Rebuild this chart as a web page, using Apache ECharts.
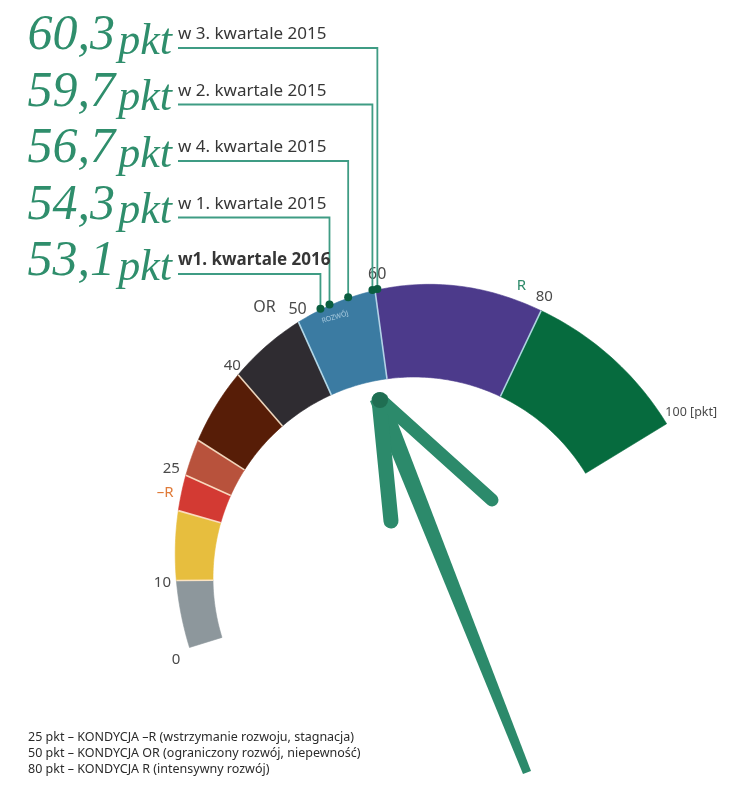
<!DOCTYPE html>
<html><head><meta charset="utf-8">
<script src="https://cdn.jsdelivr.net/npm/echarts@6/dist/echarts.min.js"></script>
<style>html,body{margin:0;padding:0;background:#fff}#main{width:729px;height:791px}</style>
</head><body><div id="main"></div>
<script>
// ---- data ----
const segStarts = [0, 10, 20, 25, 30, 40, 50, 60, 80];
const segEnds   = [10, 20, 25, 30, 40, 50, 60, 80, 100];
const segNotes  = ['', '', '', '', '', '', 'ROZWÓJ', '', ''];
const tickValues = [0, 10, 25, 40, 50, 60, 80, 100];
const tickTexts  = ['0', '10', '25', '40', '50', '60', '80', '100 [pkt]'];
const conditionValues = [25, 50, 80];
const conditionTexts  = ['–R', 'OR', 'R'];
const readingValues  = [60.3, 59.7, 56.7, 54.3, 53.1];
const readingPeriods = ['w 3. kwartale 2015', 'w 2. kwartale 2015', 'w 4. kwartale 2015', 'w 1. kwartale 2015', 'w1. kwartale 2016'];
const legendLines = [
  '25 pkt – KONDYCJA –R (wstrzymanie rozwoju, stagnacja)',
  '50 pkt – KONDYCJA OR (ograniczony rozwój, niepewność)',
  '80 pkt – KONDYCJA R (intensywny rozwój)'
];

// ---- styles ----
const segColors = ['#8d979c', '#e7be3e', '#d33a33', '#b8523c', '#571d07', '#2f2c31', '#3b7ba2', '#4c3a8b', '#066b3e'];
const INNER_R = 201;
function bandWidth(v) { const t = Math.min(v, 75) / 75; return 34 + 61 * (1 - Math.cos(Math.PI * t)) / 2; }
const tickStyle = {
  0:   {d: 10, dx: -4, dy: 9, align: 'center', size: 15},
  10:  {d: 14, dx: 0, dy: 2, align: 'center', size: 15},
  25:  {d: 16, dx: 0, dy: 0, align: 'center', size: 15},
  40:  {d: 12, dx: 2, dy: 0, align: 'center', size: 15},
  50:  {d: 12, dx: 4, dy: -2, align: 'center', size: 16},
  60:  {d: 14, dx: 4, dy: -2, align: 'center', size: 16},
  80:  {d: 12, dx: -2, dy: -3, align: 'center', size: 15},
  100: {d: 2, dx: -3, dy: -10, align: 'left', size: 12.5}
};
const condStyle = {
  25: {dx: -6, dy: 24, color: '#e07b39'},
  50: {dx: -33, dy: -2, color: '#4a4a4a'},
  80: {dx: -23, dy: -11, color: '#2e8b6a'}
};
const LINE_X0 = 178, ROW_Y0 = 48, ROW_DY = 56.5, NUM_X = 172;
const TEAL = '#3f9c84', HAND = '#2f8e6c';

const chart = echarts.init(document.getElementById('main'), null, {renderer: 'canvas'});

function ts(font, fill, align, valign) {
  return {font: font, fill: fill, align: align, textAlign: align, verticalAlign: valign, textVerticalAlign: valign};
}
function T(x, y, text, style) {
  style.text = text;
  return {type: 'text', x: x, y: y, style: style};
}

const option = {
  animation: false,
  backgroundColor: '#ffffff',
  polar: {center: [414, 578], radius: [0, 300]},
  angleAxis: {type: 'value', min: 0, max: 100, startAngle: 197.2, endAngle: 31.4, clockwise: true,
    axisLine: {show: false}, axisTick: {show: false}, axisLabel: {show: false}, splitLine: {show: false}},
  radiusAxis: {type: 'value', min: 0, max: 300,
    axisLine: {show: false}, axisTick: {show: false}, axisLabel: {show: false}, splitLine: {show: false}},
  series: [
    {
      type: 'custom', coordinateSystem: 'polar', silent: true,
      data: segStarts.map((s, i) => [s, segEnds[i], i]),
      renderItem: function (params, api) {
        const v0 = api.value(0), v1 = api.value(1), idx = api.value(2);
        const n = Math.max(4, Math.ceil((v1 - v0) * 2));
        const pts = [];
        for (let k = 0; k <= n; k++) { const v = v0 + (v1 - v0) * k / n; pts.push(api.coord([INNER_R, v])); }
        for (let k = n; k >= 0; k--) { const v = v0 + (v1 - v0) * k / n; pts.push(api.coord([INNER_R + bandWidth(v), v])); }
        const children = [{type: 'polygon', shape: {points: pts}, style: {fill: segColors[idx], stroke: segColors[idx], lineWidth: 0.6}}];
        if (v0 > 0) {
          const a = api.coord([INNER_R, v0]), b = api.coord([INNER_R + bandWidth(v0), v0]);
          children.push({type: 'line', shape: {x1: a[0], y1: a[1], x2: b[0], y2: b[1]},
            style: {stroke: v0 >= 50 ? 'rgba(190,225,240,0.9)' : 'rgba(255,232,205,0.9)', lineWidth: 1.6}});
        }
        if (segNotes[idx]) {
          const vm = v0 + (v1 - v0) * 0.45;
          const p = api.coord([INNER_R + bandWidth(vm) - 13, vm]);
          const q = api.coord([INNER_R + bandWidth(vm) - 13, vm + 0.5]);
          const ang = -Math.atan2(q[1] - p[1], q[0] - p[0]);
          children.push(T(p[0], p[1], segNotes[idx], ts('7px "Noto Sans"', 'rgba(200,225,240,0.75)', 'center', 'middle')));
          children[children.length - 1].rotation = ang;
        }
        return {type: 'group', children: children};
      }
    },
    {
      type: 'custom', coordinateSystem: 'polar', silent: true,
      data: tickValues.map((v, i) => [v, i]),
      renderItem: function (params, api) {
        const v = api.value(0), i = api.value(1);
        const st = tickStyle[v];
        const p = api.coord([INNER_R + bandWidth(v) + st.d, v]);
        const kids = [T(p[0] + st.dx, p[1] + st.dy, tickTexts[i], ts(st.size + 'px "Noto Sans"', '#4a4a4a', st.align, 'middle'))];
        const ci = conditionValues.indexOf(v);
        if (ci >= 0) {
          const cs = condStyle[v];
          kids.push(T(p[0] + st.dx + cs.dx, p[1] + st.dy + cs.dy, conditionTexts[ci], ts(st.size + 'px "Noto Sans"', cs.color, 'center', 'middle')));
        }
        return {type: 'group', children: kids};
      }
    },
    {
      type: 'custom', coordinateSystem: 'polar', silent: true, z: 5,
      data: readingValues.map((v, i) => [v, i]),
      renderItem: function (params, api) {
        const v = api.value(0), i = api.value(1);
        const p = api.coord([INNER_R + bandWidth(v) + 1, v]);
        const y = ROW_Y0 + i * ROW_DY;
        const num = v.toFixed(1).replace('.', ',');
        return {type: 'group', children: [
          {type: 'polyline', shape: {points: [[LINE_X0, y], [p[0], y], [p[0], p[1]]]}, style: {stroke: TEAL, lineWidth: 1.8, fill: null}},
          {type: 'circle', shape: {cx: p[0], cy: p[1], r: 4}, style: {fill: '#0b5e40'}},
          T(LINE_X0, y - 5, readingPeriods[i], ts((i === readingValues.length - 1 ? 'bold ' : '') + '17px "Noto Sans"', '#363636', 'left', 'bottom')),
          {type: 'text', x: NUM_X, y: y - 12, style: {
            text: '{n|' + num + '} {p|pkt}', align: 'right', textAlign: 'right', verticalAlign: 'middle', textVerticalAlign: 'middle',
            rich: {
              n: {font: 'italic 50px "Liberation Serif"', fill: HAND, color: HAND},
              p: {font: 'italic 44px "Liberation Serif"', fill: HAND, color: HAND, padding: [12, 0, 0, 0]}
            }}}
        ]};
      }
    }
  ],
  graphic: [
    {type: 'group', z: 20, silent: true, children: [
      {type: 'polygon', shape: {points: [[370, 401], [387, 395], [531, 771], [523, 774]]}, style: {fill: '#2c8a6b'}},
      {type: 'line', shape: {x1: 379, y1: 400, x2: 391, y2: 521}, style: {stroke: '#2c8a6b', lineWidth: 15, lineCap: 'round'}},
      {type: 'line', shape: {x1: 381, y1: 400, x2: 492, y2: 500}, style: {stroke: '#2c8a6b', lineWidth: 13, lineCap: 'round'}},
      {type: 'circle', shape: {cx: 380, cy: 400, r: 8}, style: {fill: '#1f6e52'}}
    ]},
    {type: 'group', z: 20, silent: true, children: legendLines.map((t, i) => ({
      type: 'text', x: 28, y: 737 + i * 16,
      style: ts('12.5px "Noto Sans"', '#2b2b2b', 'left', 'middle')
    }))}
  ]
};
option.graphic[1].children.forEach((c, i) => { c.style.text = legendLines[i]; });
chart.setOption(option);
</script></body></html>
